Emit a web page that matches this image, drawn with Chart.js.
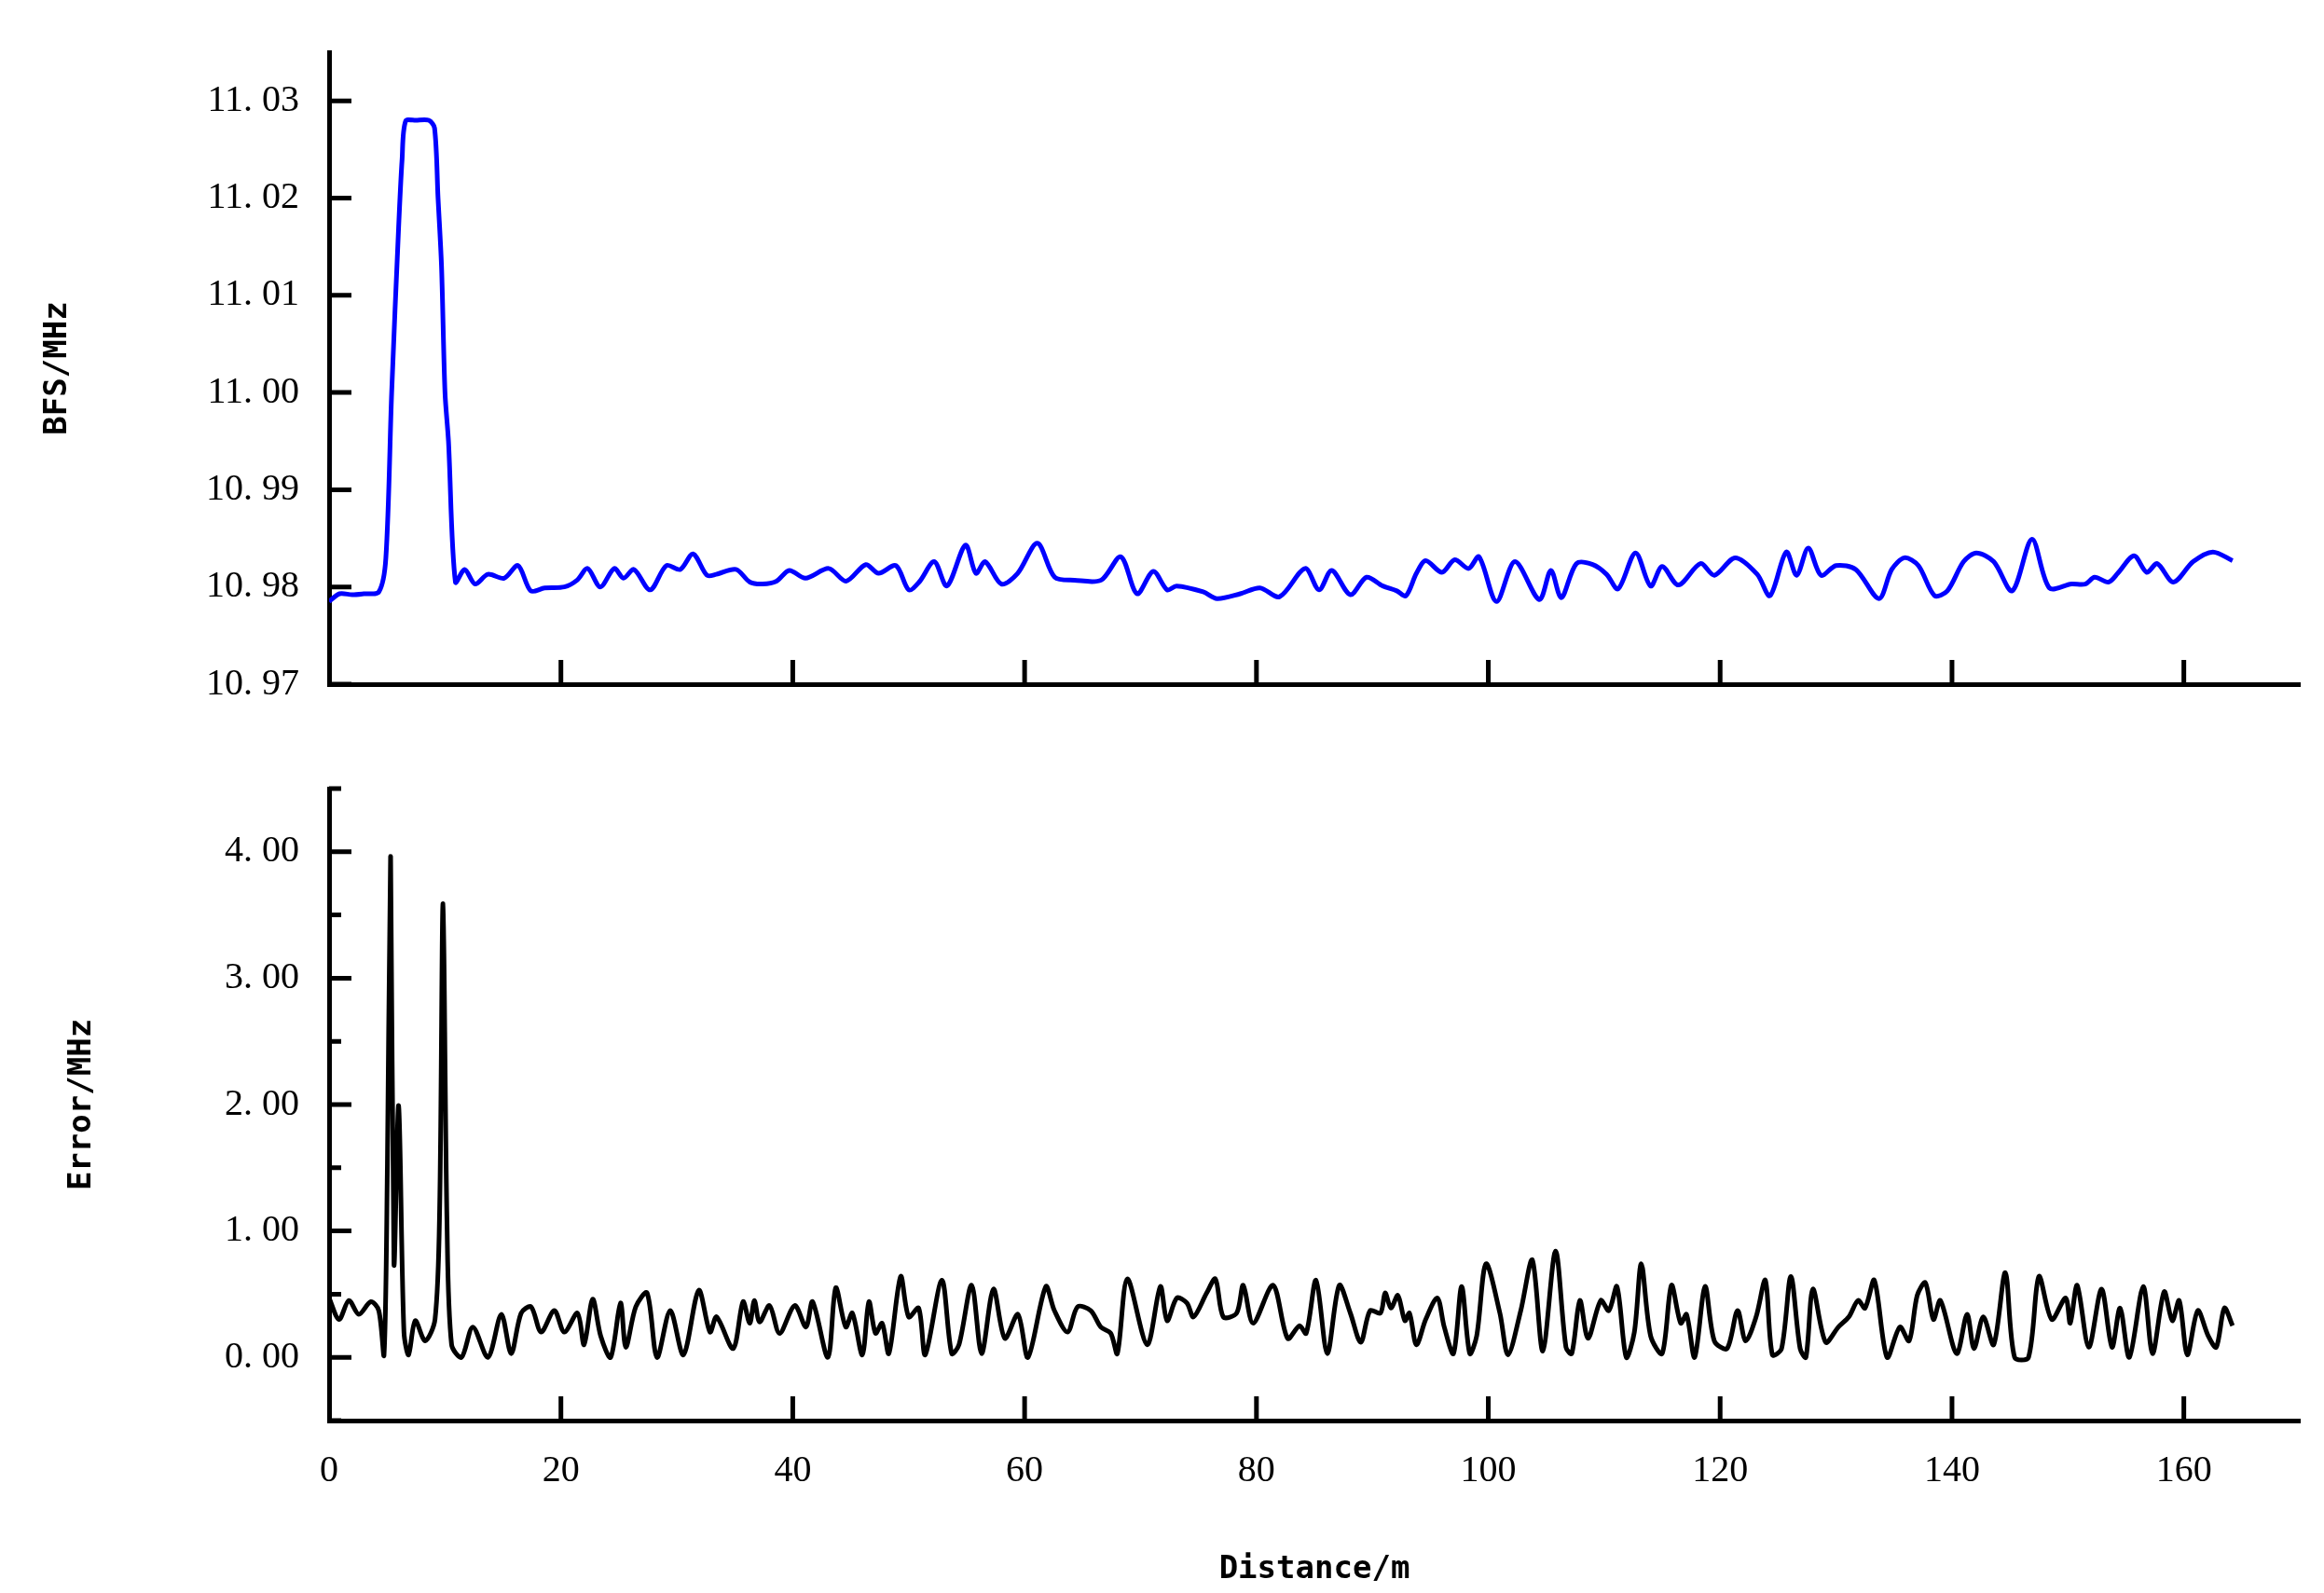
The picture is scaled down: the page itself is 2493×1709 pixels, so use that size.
<!DOCTYPE html>
<html>
<head>
<meta charset="utf-8">
<script src="https://cdn.jsdelivr.net/npm/chart.js@4/dist/chart.umd.min.js"></script>
<style>
  body { margin: 0; background: #fff; }
  .box { position: absolute; left: 0; width: 2493px; }
</style>
</head>
<body>
<div class="box" style="top:0;height:790px"><canvas id="bfsChart"></canvas></div>
<div class="box" style="top:790px;height:919px"><canvas id="errChart"></canvas></div>
<script>
// BFS curve (blue), distance in m
var bfsDist = [0, 0.9, 2, 3, 4.3, 4.9, 5.4, 6.0, 6.3, 6.6, 7.5, 8.6, 9.1, 9.4, 9.7, 10.0, 10.3, 10.9,
  11.7, 12.6, 13.7, 15.1, 16.3, 17.4, 18.6, 20.3, 21.4, 22.3, 23.4, 24.6, 25.4, 26.3, 27.7, 29.1, 30.3,
  31.4, 32.6, 33.4, 35.1, 36.3, 37.4, 38.6, 39.7, 41.1, 43.1, 44.6, 46.3, 47.4, 48.9, 50, 50.9, 52.2,
  53.3, 54.9, 55.8, 56.6, 58, 59.4, 61.1, 62.6, 64.3, 66.6, 68.3, 69.7, 71.1, 72.3, 73.1, 75.4, 76.6,
  78.6, 80.3, 82, 84.2, 85.4, 86.5, 88.1, 89.5, 90.9, 92.1, 92.9, 93.8, 94.6, 96, 97.1, 98.3, 99.2,
  100.7, 102.3, 104.4, 105.4, 106.3, 107.6, 109, 110.2, 111.2, 112.7, 114, 115, 116.4, 118.3, 119.5,
  121.3, 123.2, 124.3, 125.7, 126.6, 127.6, 128.7, 130, 131.7, 133.7, 134.8, 135.9, 137.1, 138.5,
  139.6, 141, 142.1, 143.6, 145.2, 146.9, 148.4, 150.3, 151.5, 152.3, 153.5, 154.3, 155.7, 156.8,
  157.7, 159.1, 160.8, 162.5, 164.2];
var bfsVal = [10.9785, 10.9793, 10.9792, 10.9793, 10.9795, 10.9830, 11.0000, 11.0170, 11.0240, 11.0279,
  11.0280, 11.0280, 11.0272, 11.0200, 11.0130, 11.0000, 10.9950, 10.9805,
  10.9818, 10.9803, 10.9813, 10.9809, 10.9822, 10.9796, 10.9799, 10.9800, 10.9807, 10.9819, 10.9800,
  10.9819, 10.9809, 10.9818, 10.9797, 10.9822, 10.9818, 10.9834, 10.9812, 10.9813, 10.9818, 10.9805,
  10.9803, 10.9806, 10.9817, 10.9809, 10.9819, 10.9806, 10.9823, 10.9814, 10.9822, 10.9797, 10.9805,
  10.9826, 10.9801, 10.9843, 10.9814, 10.9826, 10.9803, 10.9814, 10.9845, 10.9810, 10.9807, 10.9807,
  10.9831, 10.9793, 10.9816, 10.9797, 10.9801, 10.9795, 10.9788, 10.9793, 10.9799, 10.9790, 10.9819,
  10.9797, 10.9817, 10.9792, 10.9810, 10.9801, 10.9796, 10.9791, 10.9814, 10.9827, 10.9815, 10.9828,
  10.9819, 10.9831, 10.9785, 10.9826, 10.9787, 10.9817, 10.9789, 10.9824, 10.9823, 10.9813, 10.9798,
  10.9835, 10.9801, 10.9821, 10.9802, 10.9824, 10.9812, 10.9830, 10.9813, 10.9791, 10.9836, 10.9812,
  10.9840, 10.9812, 10.9822, 10.9818, 10.9788, 10.9818, 10.9830, 10.9822, 10.9791, 10.9796, 10.9826,
  10.9835, 10.9826, 10.9796, 10.9849, 10.9799, 10.9803, 10.9803, 10.9810, 10.9805, 10.9814, 10.9832,
  10.9815, 10.9824, 10.9805, 10.9826, 10.9836, 10.9827];

// Error curve (black)
var errDist = [0, 0.86, 1.71, 2.57, 3.6, 4.29, 4.74, 5.03, 5.31, 5.6, 6.0, 6.46, 6.86, 7.43, 8.29, 9.14,
  9.54, 9.83, 10.17, 10.57, 11.43, 12.4, 13.71, 14.86, 15.71, 16.57, 17.43, 18.29, 19.43, 20.29, 21.43,
  22.0, 22.74, 23.43, 24.29, 25.14, 25.6, 26.46, 27.43, 28.29, 29.43, 30.57, 31.89, 32.86, 33.43, 34.86,
  35.71, 36.29, 36.69, 37.14, 38.0, 38.86, 40.17, 41.14, 41.71, 43.03, 43.71, 44.57, 45.14, 46.0, 46.57,
  47.14, 47.71, 48.29, 49.31, 50.0, 50.86, 51.43, 52.86, 53.71, 54.34, 55.43, 56.29, 57.31, 58.29, 59.43,
  60.29, 61.83, 62.57, 63.71, 64.57, 65.71, 66.57, 67.43, 68.0, 68.86, 70.57, 71.71, 72.29, 73.14, 74.0,
  74.57, 75.71, 76.46, 77.14, 78.29, 78.86, 79.71, 81.43, 82.69, 83.71, 84.29, 85.14, 86.11, 87.14, 88.1,
  89.0, 89.8, 90.7, 91.1, 91.6, 92.2, 92.8, 93.2, 93.8, 94.6, 95.6, 96.2, 97.0, 97.7, 98.4, 99.0, 99.8,
  101.0, 101.7, 102.8, 103.8, 104.7, 105.8, 106.7, 107.2, 107.9, 108.6, 109.7, 110.4, 111.1, 111.9, 112.6,
  113.2, 114.0, 115.0, 115.8, 116.6, 117.1, 117.8, 118.7, 119.5, 120.6, 121.5, 122.2, 123.1, 123.9, 124.5,
  125.3, 126.1, 126.9, 127.4, 128.0, 129.1, 130.2, 131.1, 131.9, 132.5, 133.3, 134.4, 135.5, 136.3, 137.0,
  137.7, 138.4, 139.0, 140.4, 141.3, 141.9, 142.7, 143.6, 144.6, 145.4, 146.6, 147.5, 148.6, 149.8, 150.2,
  150.8, 151.8, 152.9, 153.8, 154.5, 155.3, 156.5, 157.3, 158.3, 159.0, 159.6, 160.3, 161.2, 162.1, 162.8,
  163.5, 164.2];
var errVal = [0.47, 0.30, 0.45, 0.34, 0.44, 0.37, 0.02, 1.51, 3.96, 0.74, 1.99, 0.20, 0.02, 0.29, 0.13,
  0.30, 1.18, 3.59, 1.08, 0.10, 0.00, 0.24, 0.00, 0.34, 0.03, 0.35, 0.40, 0.20, 0.37, 0.20, 0.35, 0.10,
  0.46, 0.17, 0.00, 0.43, 0.08, 0.40, 0.51, 0.00, 0.37, 0.02, 0.53, 0.20, 0.32, 0.07, 0.44, 0.27, 0.45,
  0.28, 0.41, 0.19, 0.41, 0.24, 0.44, 0.00, 0.55, 0.24, 0.35, 0.02, 0.44, 0.19, 0.27, 0.03, 0.64, 0.32,
  0.39, 0.02, 0.61, 0.03, 0.10, 0.57, 0.03, 0.54, 0.15, 0.34, 0.00, 0.56, 0.37, 0.20, 0.40, 0.37, 0.24,
  0.19, 0.03, 0.62, 0.10, 0.56, 0.29, 0.47, 0.43, 0.32, 0.51, 0.62, 0.32, 0.35, 0.57, 0.27, 0.57, 0.15,
  0.25, 0.19, 0.61, 0.03, 0.57, 0.35, 0.12, 0.37, 0.35, 0.51, 0.39, 0.49, 0.29, 0.35, 0.10, 0.30, 0.47,
  0.24, 0.03, 0.56, 0.03, 0.17, 0.74, 0.35, 0.02, 0.37, 0.77, 0.05, 0.84, 0.08, 0.03, 0.45, 0.15, 0.45,
  0.37, 0.56, 0.00, 0.20, 0.74, 0.17, 0.03, 0.57, 0.27, 0.34, 0.00, 0.56, 0.13, 0.07, 0.37, 0.13, 0.32,
  0.61, 0.02, 0.07, 0.64, 0.07, 0.00, 0.54, 0.12, 0.24, 0.32, 0.45, 0.39, 0.61, 0.00, 0.24, 0.13, 0.49,
  0.59, 0.30, 0.45, 0.03, 0.34, 0.07, 0.32, 0.10, 0.67, 0.00, 0.00, 0.64, 0.30, 0.47, 0.27, 0.57, 0.08,
  0.54, 0.08, 0.39, 0.00, 0.56, 0.03, 0.52, 0.29, 0.45, 0.02, 0.37, 0.17, 0.08, 0.39, 0.25];

var xTicks = [0, 20, 40, 60, 80, 100, 120, 140, 160];
var bfsTicks = [10.97, 10.98, 10.99, 11.00, 11.01, 11.02, 11.03];
var errTicks = [0, 1, 2, 3, 4];
var errMinorTicks = [-0.5, 0.5, 1.5, 2.5, 3.5, 4.5];

var tickFont = { family: "'Liberation Serif', 'DejaVu Serif', serif", size: 40 };
var titleFont = { family: "'DejaVu Sans Mono', 'Liberation Mono', monospace", size: 34, weight: 'bold' };

function toPoints(xs, ys) {
    return xs.map(function (x, i) { return { x: x, y: ys[i] }; });
}

// ticks pointing into the plot, like the original figure
var inwardTicks = {
    id: 'inwardTicks',
    afterDraw: function (chart, args, opts) {
        var ctx = chart.ctx, area = chart.chartArea, xs = chart.scales.x, ys = chart.scales.y;
        ctx.save();
        ctx.strokeStyle = '#000';
        ctx.lineWidth = 5;
        ctx.beginPath();
        xTicks.forEach(function (v) {
            if (v === 0) return;
            var px = xs.getPixelForValue(v);
            ctx.moveTo(px, area.bottom); ctx.lineTo(px, area.bottom - 26);
        });
        opts.major.forEach(function (v) {
            var py = ys.getPixelForValue(v);
            ctx.moveTo(area.left, py); ctx.lineTo(area.left + 24, py);
        });
        (opts.minor || []).forEach(function (v) {
            var py = ys.getPixelForValue(v);
            ctx.moveTo(area.left, py); ctx.lineTo(area.left + 13, py);
        });
        ctx.stroke();
        ctx.restore();
    }
};

function makeChart(id, cfg) {
    return new Chart(document.getElementById(id).getContext('2d'), {
        type: 'line',
        data: { datasets: [{ data: cfg.points, borderColor: cfg.color, borderWidth: 5, pointRadius: 0, tension: 0.3, fill: false }] },
        plugins: [inwardTicks],
        options: {
            responsive: true,
            maintainAspectRatio: false,
            animation: false,
            layout: { padding: { top: cfg.padTop, right: 26, left: 0, bottom: 0 } },
            plugins: { legend: { display: false }, tooltip: { enabled: false }, inwardTicks: { major: cfg.major, minor: cfg.minor } },
            scales: {
                x: {
                    type: 'linear', min: 0, max: 170,
                    afterBuildTicks: function (s) { s.ticks = xTicks.map(function (v) { return { value: v }; }); },
                    afterFit: function (s) { s.height = cfg.xHeight; },
                    grid: { display: false, drawTicks: false },
                    border: { color: '#000', width: 5 },
                    ticks: { display: cfg.showX, color: '#000', font: tickFont, padding: 30, maxRotation: 0 },
                    title: { display: cfg.showX, text: 'Distance/m', color: '#000', font: titleFont, padding: { top: 22 } }
                },
                y: {
                    min: cfg.min, max: cfg.max,
                    afterBuildTicks: function (s) { s.ticks = cfg.major.map(function (v) { return { value: v }; }); },
                    afterFit: function (s) { s.width = 353; },
                    grid: { display: false, drawTicks: false },
                    border: { color: '#000', width: 5 },
                    ticks: { color: '#000', font: tickFont, padding: 32, callback: cfg.fmt },
                    title: { display: true, text: cfg.title, color: '#000', font: titleFont, padding: { top: cfg.titlePad, bottom: 0 } }
                }
            }
        }
    });
}

makeChart('bfsChart', {
    points: toPoints(bfsDist, bfsVal), color: '#0000ff',
    min: 10.97, max: 11.035, major: bfsTicks, minor: [],
    fmt: function (v) { return v.toFixed(2).replace('.', '. '); },
    title: 'BFS/MHz', titlePad: 42, padTop: 48, xHeight: 53, showX: false
});

makeChart('errChart', {
    points: toPoints(errDist, errVal), color: '#000000',
    min: -0.5, max: 4.5, major: errTicks, minor: errMinorTicks,
    fmt: function (v) { return v.toFixed(2).replace('.', '. '); },
    title: 'Error/MHz', titlePad: 68, padTop: 45, xHeight: 185, showX: true
});
</script>
</body>
</html>
